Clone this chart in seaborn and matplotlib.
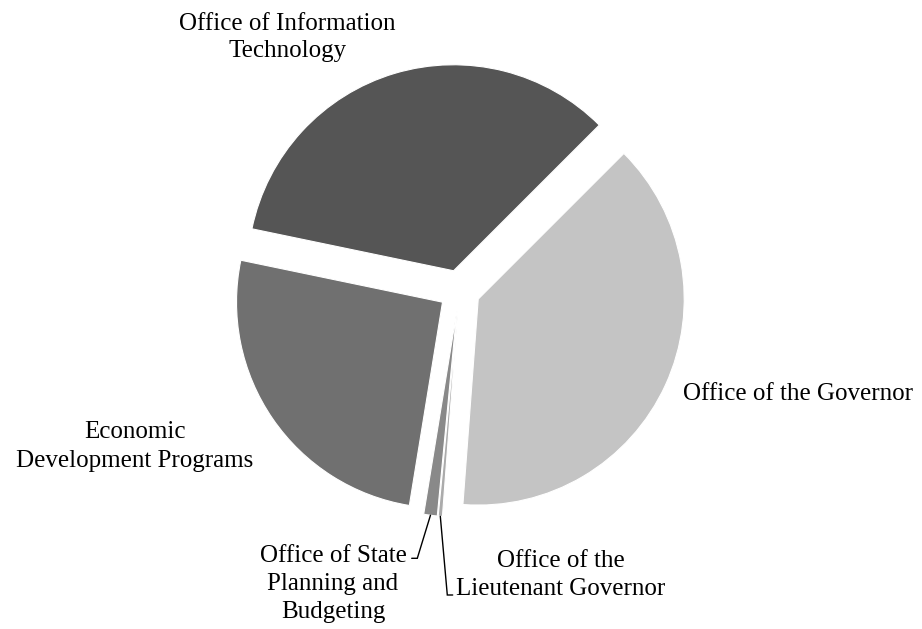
import numpy as np
import matplotlib
matplotlib.use("Agg")
import matplotlib.pyplot as plt
import seaborn as sns

# Budget share by office (percent of total)
offices = [
    "Office of the Governor",
    "Office of the\nLieutenant Governor",
    "Office of State\nPlanning and\nBudgeting",
    "Economic\nDevelopment Programs",
    "Office of Information\nTechnology",
]
shares = [38.7, 0.33, 1.06, 25.7, 34.25]
colors = ["#c4c4c4", "#ababab", "#898989", "#707070", "#555555"]

sns.set_theme(style="white")
plt.rcParams["font.family"] = ["Liberation Serif", "DejaVu Serif"]

W, H = 922, 629
fig = plt.figure(figsize=(W / 100, H / 100), dpi=100)
ax = fig.add_axes([0, 0, 1, 1])

cx, cy, R = 459.5, H - 290.5, 206.0
explode = 0.1 * R  # pie() takes the offset in data units

wedges, _ = ax.pie(
    shares,
    colors=colors,
    startangle=45,
    counterclock=False,
    explode=[explode] * len(shares),
    radius=R,
    center=(cx, cy),
    wedgeprops=dict(edgecolor="white", linewidth=0.8),
)
ax.set_xlim(0, W)
ax.set_ylim(0, H)
ax.set_aspect("equal")
ax.axis("off")

# label placement: (x, anchor, baselines in pixels from top)
label_layout = {
    0: (683, "left", [400]),
    1: (561, "center", [567, 595]),
    2: (333, "center", [561.5, 590, 618]),
    3: (134.5, "center", [438, 467]),
    4: (287.5, "center", [30, 57]),
}
for i, (x, ha, baselines) in label_layout.items():
    for line, yb in zip(offices[i].split("\n"), baselines):
        ax.text(x, H - yb, line, ha=ha, va="baseline", fontsize=18, color="black")

# leader lines for the two thin slices
leaders = {
    1: [(447.3, 595), (452.7, 595)],
    2: [(417.3, 558.3), (411.7, 558.3)],
}
for i, pts in leaders.items():
    w = wedges[i]
    mid = np.deg2rad((w.theta1 + w.theta2) / 2)
    ox, oy = w.center
    sx, sy = ox + w.r * np.cos(mid), oy + w.r * np.sin(mid)
    xs = [sx] + [p[0] for p in pts]
    ys = [sy] + [H - p[1] for p in pts]
    ax.plot(xs, ys, color="black", lw=1.0, solid_joinstyle="miter")

fig.savefig("out.png", dpi=100, facecolor="white")
